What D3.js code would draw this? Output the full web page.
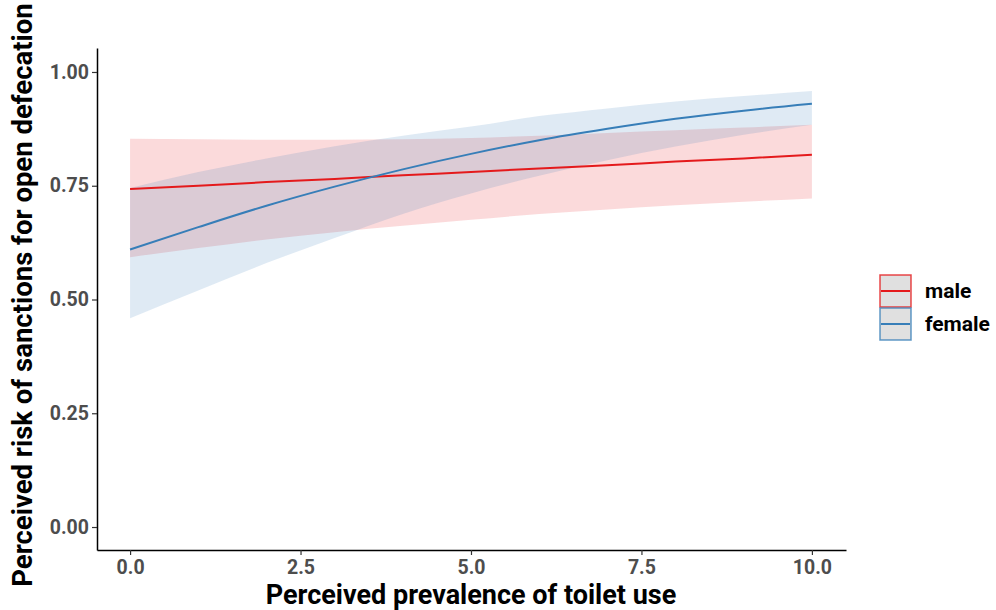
<!DOCTYPE html>
<html><head><meta charset="utf-8">
<script src="https://cdn.jsdelivr.net/npm/d3@7"></script>
<style>body{margin:0;background:#fff}svg{display:block}text{font-family:Roboto,"Liberation Sans",sans-serif}</style>
</head><body><svg id="c" width="996" height="610"></svg>
<script>
const xValues = [0,1,2,3,4,5,6,7,8,9,10];
const maleFit   = [0.743,0.750,0.758,0.765,0.773,0.780,0.788,0.795,0.803,0.810,0.818];
const maleUpper = [0.853,0.852,0.851,0.851,0.852,0.855,0.860,0.866,0.872,0.878,0.884];
const maleLower = [0.593,0.613,0.632,0.648,0.662,0.675,0.688,0.698,0.707,0.715,0.722];
const femaleFit   = [0.610,0.659,0.706,0.748,0.786,0.820,0.850,0.875,0.897,0.915,0.930];
const femaleUpper = [0.745,0.780,0.810,0.837,0.860,0.880,0.903,0.920,0.935,0.947,0.958];
const femaleLower = [0.459,0.520,0.580,0.635,0.688,0.733,0.772,0.806,0.836,0.862,0.884];
const xTicks = [0,2.5,5,7.5,10];
const yTicks = [0,0.25,0.5,0.75,1];
const groups = ["male","female"];
const colors = {male:"#E41A1C", female:"#377EB8"};

const svg = d3.select("#c");
const x = d3.scaleLinear().domain([-0.485,10.5]).range([97,846]);
const y = d3.scaleLinear().domain([-0.0505,1.0527]).range([550,48]);

const series = [
  {name:"male", fit:maleFit, up:maleUpper, lo:maleLower},
  {name:"female", fit:femaleFit, up:femaleUpper, lo:femaleLower}
];
const area = d3.area().x(d=>x(d.x)).y0(d=>y(d.lo)).y1(d=>y(d.up)).curve(d3.curveMonotoneX);
const line = d3.line().x(d=>x(d.x)).y(d=>y(d.v)).curve(d3.curveMonotoneX);

series.forEach(s=>{
  const pts = xValues.map((v,i)=>({x:v, lo:s.lo[i], up:s.up[i]}));
  svg.append("path").attr("d",area(pts)).attr("fill",colors[s.name]).attr("fill-opacity",0.16);
});
series.forEach(s=>{
  const pts = xValues.map((v,i)=>({x:v, v:s.fit[i]}));
  svg.append("path").attr("d",line(pts)).attr("fill","none").attr("stroke",colors[s.name]).attr("stroke-width",2);
});

// axes
const xAxis = svg.append("g").attr("transform","translate(0,550)")
  .call(d3.axisBottom(x).tickValues(xTicks).tickFormat(d3.format(".1f")).tickSize(5).tickSizeOuter(0));
const yAxis = svg.append("g").attr("transform","translate(97,0)")
  .call(d3.axisLeft(y).tickValues(yTicks).tickFormat(d3.format(".2f")).tickSize(5).tickSizeOuter(0));
[xAxis,yAxis].forEach(g=>{
  g.select(".domain").attr("stroke","#000").attr("stroke-width",1.5);
  g.selectAll(".tick line").attr("stroke","#333").attr("stroke-width",1.2);
  g.selectAll(".tick text").attr("fill","#4d4d4d").attr("font-size",19.5).attr("font-weight","bold")
   .attr("font-family","Roboto,sans-serif");
});
xAxis.selectAll(".tick text").attr("y",10);

svg.append("text").attr("x",471).attr("y",604).attr("text-anchor","middle")
  .attr("font-size",27).attr("font-weight","bold").attr("fill","#000")
  .text("Perceived prevalence of toilet use");
svg.append("text").attr("transform","translate(32,295) rotate(-90)").attr("text-anchor","middle")
  .attr("font-size",27.5).attr("font-weight","bold").attr("fill","#000")
  .text("Perceived risk of sanctions for open defecation");

// legend
const lg = svg.append("g").attr("transform","translate(880,275)");
groups.forEach((g,i)=>{
  const gy = i*33;
  lg.append("rect").attr("x",0).attr("y",gy).attr("width",31).attr("height",32)
    .attr("fill","#e0e0e0").attr("stroke",colors[g]).attr("stroke-width",1.5).attr("stroke-opacity",0.8);
  lg.append("line").attr("x1",1).attr("x2",30).attr("y1",gy+16).attr("y2",gy+16)
    .attr("stroke",colors[g]).attr("stroke-width",2);
  lg.append("text").attr("x",45).attr("y",gy+16).attr("dy","0.35em")
    .attr("font-size",21).attr("font-weight","bold").attr("fill","#000").text(g);
});
</script></body></html>
